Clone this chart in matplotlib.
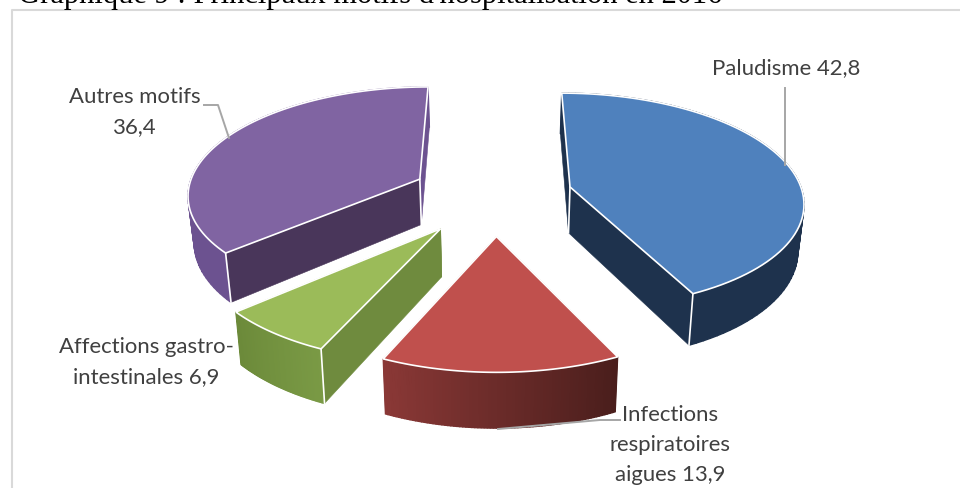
import numpy as np
import matplotlib
matplotlib.use('Agg')
import matplotlib.pyplot as plt
from matplotlib.colors import LinearSegmentedColormap
from matplotlib.patches import Polygon

# values
categories = ['Paludisme', 'Infections respiratoires aigues',
              'Affections gastro-intestinales', 'Autres motifs']
values = [42.8, 13.9, 6.9, 36.4]

# look of each slice, same order as values
top_colors = ['#4F81BD', '#C0504D', '#9BBB59', '#8064A2']
rim_from = ['#1E324D', '#4A1E1C', '#7A9A45', '#6C5290']
rim_to = ['#1E324D', '#8A3836', '#6C8A3A', '#6C5290']
start_face = ['#1E324D', '#5A2524', '#6F8B3E', '#49365A']
end_face = ['#1E324D', '#5A2524', '#6F8B3E', '#6C5290']
explode = [84, 93, 95, 91]

# fake perspective, fitted on the picture
RADIUS = 252
CENTER_X = 495
CENTER_Y = 152
CAMERA = 1865
VANISH_Y = -665
PLANE_H = 930
DEPTH = 50
SHRINK = 0.98


def project(x, y, lower=False):
    s = CAMERA / (CAMERA + y)
    px = x * s
    py = VANISH_Y + PLANE_H * s
    if lower:
        return CENTER_X + px * SHRINK, py + DEPTH * (py - VANISH_Y) / PLANE_H
    return CENTER_X + px, py


def quad(ax, a, b, color, z, lw=0.4):
    # one side face between two plane points a and b
    x1, y1 = project(*a)
    x2, y2 = project(*b)
    x3, y3 = project(*b, lower=True)
    x4, y4 = project(*a, lower=True)
    ax.add_patch(Polygon([(x1, y1), (x2, y2), (x3, y3), (x4, y4)], closed=True,
                         facecolor=color, edgecolor=color, lw=lw, zorder=z))


def draw_slice(ax, i, start, end):
    mid = np.radians((start + end) / 2)
    ox = explode[i] * np.sin(mid)
    oy = CENTER_Y + explode[i] * np.cos(mid)
    angles = np.radians(np.linspace(start, end, 80))
    xs = ox + RADIUS * np.sin(angles)
    ys = oy + RADIUS * np.cos(angles)

    quad(ax, (ox, oy), (xs[0], ys[0]), start_face[i], 2)
    quad(ax, (ox, oy), (xs[-1], ys[-1]), end_face[i], 2)

    cmap = LinearSegmentedColormap.from_list('rim', [rim_from[i], rim_to[i]])
    for k in range(len(xs) - 1):
        quad(ax, (xs[k], ys[k]), (xs[k + 1], ys[k + 1]),
             cmap(k / (len(xs) - 2)), 3, lw=1.0)

    top = [project(ox, oy)] + [project(a, b) for a, b in zip(xs, ys)]
    ax.add_patch(Polygon(top, closed=True, facecolor=top_colors[i],
                         edgecolor='white', lw=1.2, zorder=4))

    # white corner lines where the faces meet
    corners = {0: [(ox, oy), (xs[-1], ys[-1])],
               1: [],
               2: [(xs[0], ys[0])],
               3: [(ox, oy), (xs[0], ys[0])]}[i]
    for c in corners:
        x1, y1 = project(*c)
        x2, y2 = project(*c, lower=True)
        ax.plot([x1, x2], [y1, y2], color='white', lw=1.2, zorder=3.5)


fig = plt.figure(figsize=(9.6, 4.88), dpi=100)
ax = fig.add_axes([0, 0, 1, 1])
ax.set_xlim(0, 960)
ax.set_ylim(488, 0)
ax.axis('off')

# chart frame, it runs off the picture at the bottom and on the right
ax.plot([11.5, 11.5, 960], [488, 9.5, 9.5], color='#D9D9D9', lw=1.5)

ax.text(18, 3, "Graphique 9 : Principaux motifs d'hospitalisation en 2016",
        family='Liberation Serif', fontsize=22, color='black', ha='left', va='baseline')

angle = 0.0
total = sum(values)
for i, v in enumerate(values):
    sweep = v / total * 360
    draw_slice(ax, i, angle, angle + sweep)
    angle += sweep

# leader lines
leader = dict(color='#A6A6A6', lw=1.4, zorder=5)
ax.plot([785, 785], [88, 165], **leader)
ax.plot([204, 218, 229], [105, 105, 138], **leader)
ax.plot([620, 600, 498], [420, 420, 429], **leader)

label = dict(family='Lato', fontsize=15.9, color='#404040', ha='center', va='center',
             linespacing=1.62, zorder=6)
ax.text(786, 68, 'Paludisme 42,8', **label)
ax.text(135, 112, 'Autres motifs\n36,4', **label)
ax.text(146, 362, 'Affections gastro-\nintestinales 6,9', **label)
ax.text(670, 445, 'Infections\nrespiratoires\naigues 13,9', **label)

fig.savefig('out.png', dpi=100)
